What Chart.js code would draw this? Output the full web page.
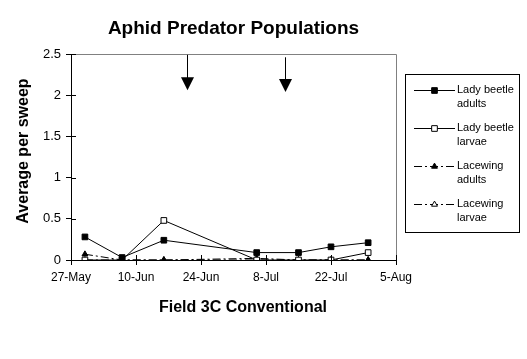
<!DOCTYPE html>
<html><head><meta charset="utf-8">
<script src="https://cdn.jsdelivr.net/npm/chart.js@4/dist/chart.umd.min.js"></script>
<style>html,body{margin:0;padding:0;background:#fff;overflow:hidden}#wrap{width:527px;height:359px;position:relative}</style>
</head><body><div id="wrap"><canvas id="c" width="527" height="359"></canvas></div>
<script>
// ---- data ----
const axisStart = '05-27';
const sampleDates = ['05-30','06-07','06-16','07-06','07-15','07-22','07-30'];
const ladyBeetleAdults = [0.28, 0.03, 0.24, 0.09, 0.09, 0.16, 0.21];
const ladyBeetleLarvae = [0.00, 0.00, 0.48, 0.00, 0.00, 0.00, 0.09];
const lacewingAdults   = [0.07, 0.00, 0.00, 0.02, 0.00, 0.00, 0.00];
const lacewingLarvae   = [0.00, 0.00, 0.00, 0.00, 0.00, 0.00, 0.00];
const seriesNames = [['Lady beetle','adults'],['Lady beetle','larvae'],['Lacewing','adults'],['Lacewing','larvae']];
const xTickLabels = ['27-May','10-Jun','24-Jun','8-Jul','22-Jul','5-Aug'];
const xTickStepDays = 14;
const yTickLabels = ['0','0.5','1','1.5','2','2.5'];
const sprayArrowDates = ['06-21','07-12'];
const sprayArrowFrom = [2.49, 2.46];
const sprayArrowTo = [2.06, 2.04];
const chartTitle = 'Aphid Predator Populations';
const xTitle = 'Field 3C Conventional';
const yTitle = 'Average per sweep';

function dayOf(md){
  const [m,d] = md.split('-').map(Number);
  const [m0,d0] = axisStart.split('-').map(Number);
  return Math.round((Date.UTC(2001,m-1,d) - Date.UTC(2001,m0-1,d0))/86400000);
}
const pts = arr => sampleDates.map((d,i)=>({x:dayOf(d), y:arr[i]}));

const FONT = "'Liberation Sans', Arial, sans-serif";
const dashDot = [8,3,2,3];

const datasets = [
  {label:'Lady beetle adults', data:pts(ladyBeetleAdults), borderColor:'#000', borderWidth:1, pointStyle:'rect', pointRadius:4, pointBackgroundColor:'#000', pointBorderColor:'#000', pointBorderWidth:1, borderDash:[]},
  {label:'Lady beetle larvae', data:pts(ladyBeetleLarvae), borderColor:'#000', borderWidth:1, pointStyle:'rect', pointRadius:4, pointBackgroundColor:'#fff', pointBorderColor:'#000', pointBorderWidth:1, borderDash:[]},
  {label:'Lacewing adults', data:pts(lacewingAdults), borderColor:'#000', borderWidth:1, pointStyle:'triangle', pointRadius:3.4, pointBackgroundColor:'#000', pointBorderColor:'#000', pointBorderWidth:1, borderDash:dashDot},
  {label:'Lacewing larvae', data:pts(lacewingLarvae), borderColor:'#000', borderWidth:1, pointStyle:'triangle', pointRadius:3.4, pointBackgroundColor:'#fff', pointBorderColor:'#000', pointBorderWidth:1, borderDash:dashDot}
];
datasets.forEach(d=>{d.tension=0; d.fill=false; d.backgroundColor=d.pointBackgroundColor;});

const decor = {
  id:'decor',
  afterDraw(chart){
    const {ctx, chartArea:a, scales:{x,y}} = chart;
    ctx.save();
    // grey plot border (top, right)
    ctx.strokeStyle='#808080'; ctx.lineWidth=1;
    ctx.beginPath();
    ctx.moveTo(a.left, Math.round(a.top)+0.5);
    ctx.lineTo(Math.round(a.right)+0.5, Math.round(a.top)+0.5);
    ctx.lineTo(Math.round(a.right)+0.5, a.bottom);
    ctx.stroke();
    // inner halves of cross ticks
    ctx.strokeStyle='#000';
    ctx.beginPath();
    y.ticks.forEach(t=>{const py=Math.round(y.getPixelForValue(t.value))+0.5; ctx.moveTo(a.left,py); ctx.lineTo(a.left+5,py);});
    x.ticks.forEach(t=>{const px=Math.round(x.getPixelForValue(t.value))+0.5; ctx.moveTo(px,a.bottom); ctx.lineTo(px,a.bottom-5);});
    ctx.stroke();
    // spray arrows
    sprayArrowDates.forEach((d,i)=>{
      const px = Math.round(x.getPixelForValue(dayOf(d)))+0.5;
      const y0 = y.getPixelForValue(sprayArrowFrom[i]);
      const y1 = y.getPixelForValue(sprayArrowTo[i]);
      ctx.strokeStyle='#000'; ctx.lineWidth=1;
      ctx.beginPath(); ctx.moveTo(px,y0); ctx.lineTo(px,y1-12); ctx.stroke();
      ctx.fillStyle='#000';
      ctx.beginPath(); ctx.moveTo(px-6.5,y1-13); ctx.lineTo(px+6.5,y1-13); ctx.lineTo(px,y1); ctx.closePath(); ctx.fill();
    });
    // axis titles
    ctx.fillStyle='#000';
    ctx.font = "bold 16px "+FONT;
    ctx.textAlign='center'; ctx.textBaseline='middle';
    ctx.fillText(xTitle, 243, 308);
    ctx.save(); ctx.translate(24,151); ctx.rotate(-Math.PI/2); ctx.fillText(yTitle,0,0); ctx.restore();
    // legend
    const L = {left:405, top:74, right:519, bottom:232};
    ctx.strokeStyle='#000'; ctx.lineWidth=1;
    ctx.strokeRect(L.left+0.5, L.top+0.5, L.right-L.left, L.bottom-L.top);
    ctx.font = "11px "+FONT; ctx.textAlign='left'; ctx.textBaseline='middle';
    chart.data.datasets.forEach((ds,i)=>{
      const ly = Math.round(L.top + 15.5 + 38.3*i)+0.5;
      ctx.strokeStyle='#000'; ctx.lineWidth=1; ctx.setLineDash(ds.borderDash||[]);
      ctx.beginPath(); ctx.moveTo(414,ly); ctx.lineTo(455,ly); ctx.stroke();
      ctx.setLineDash([]);
      ctx.fillStyle=ds.pointBackgroundColor; ctx.strokeStyle=ds.pointBorderColor;
      Chart.helpers.drawPoint(ctx,{pointStyle:ds.pointStyle, radius:ds.pointRadius, borderWidth:1, rotation:0}, 434.5, ly);
      ctx.fillStyle='#000';
      ctx.fillText(seriesNames[i][0], 457, ly-1);
      ctx.fillText(seriesNames[i][1], 457, ly+13.5);
    });
    ctx.restore();
  }
};

new Chart(document.getElementById('c'), {
  type:'line',
  data:{datasets},
  plugins:[decor],
  options:{
    responsive:false, animation:false, devicePixelRatio:1,
    layout:{padding:{left:0, right:131, top:0, bottom:0}},
    plugins:{
      legend:{display:false}, tooltip:{enabled:false},
      title:{display:true, text:chartTitle, fullSize:false, color:'#000', font:{family:FONT, size:19, weight:'bold'}, padding:{top:17, bottom:14.2}}
    },
    scales:{
      x:{type:'linear', min:0, max:xTickStepDays*(xTickLabels.length-1),
        afterBuildTicks: s=>{ s.ticks = xTickLabels.map((_,i)=>({value:i*xTickStepDays})); },
        ticks:{autoSkip:false, maxRotation:0, color:'#000', font:{family:FONT,size:12}, padding:5,
          callback:(v)=>xTickLabels[Math.round(v/xTickStepDays)]},
        grid:{drawOnChartArea:false, drawTicks:true, tickLength:5, color:'#000'},
        border:{color:'#000', width:1},
        afterFit: s=>{ s.height = 99; }
      },
      y:{min:0, max:2.5,
        afterBuildTicks: s=>{ s.ticks = yTickLabels.map(t=>({value:parseFloat(t)})); },
        ticks:{color:'#000', font:{family:FONT,size:13}, padding:5,
          callback:(v)=>yTickLabels[Math.round(v/0.5)]},
        grid:{drawOnChartArea:false, drawTicks:true, tickLength:5, color:'#000'},
        border:{color:'#000', width:1},
        afterFit: s=>{ s.width = 71; }
      }
    }
  }
});
</script></body></html>
